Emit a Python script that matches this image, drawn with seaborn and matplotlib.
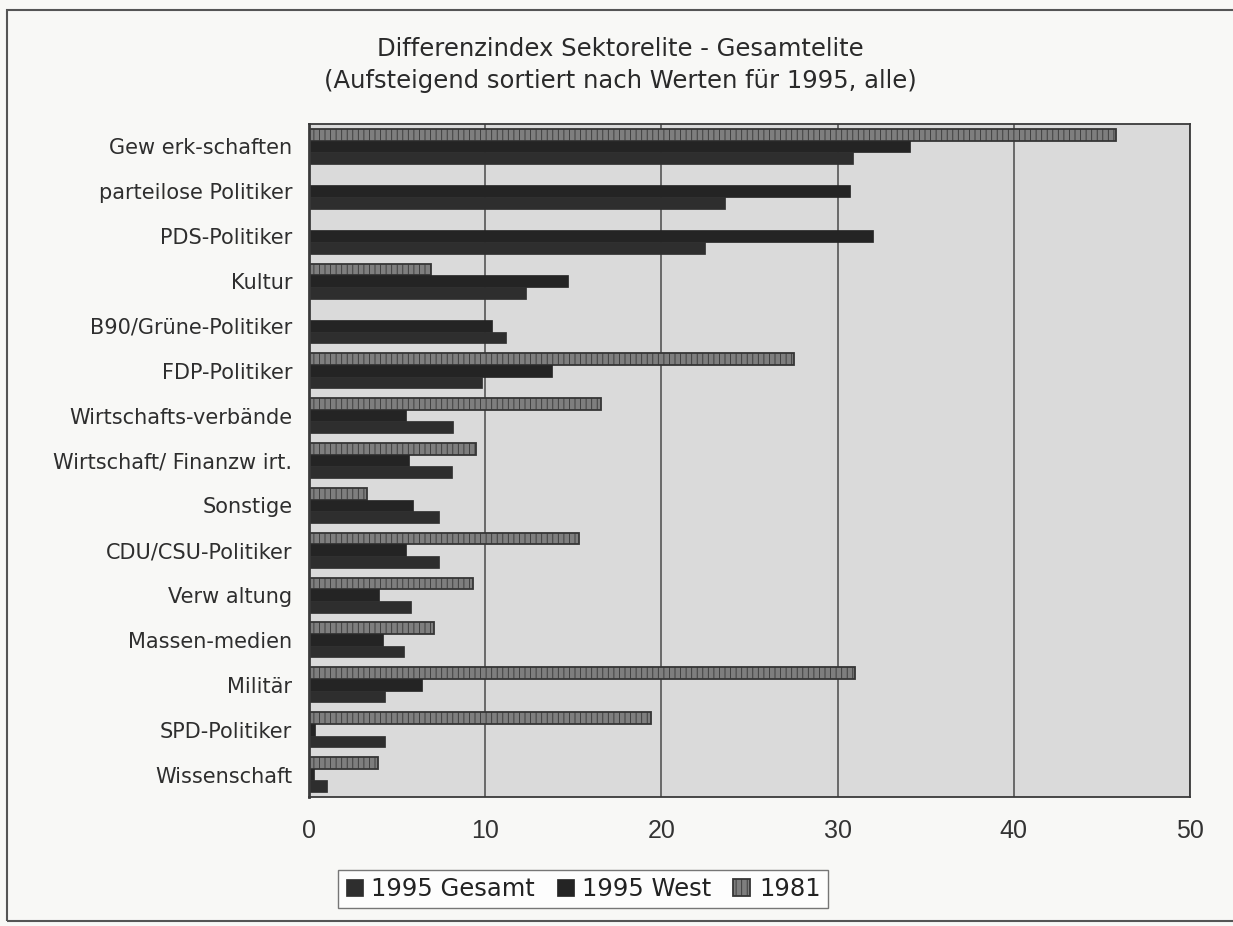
import numpy as np
import pandas as pd
import matplotlib
matplotlib.use("Agg")
import matplotlib.pyplot as plt
from matplotlib.patches import Rectangle
import seaborn as sns

# Sectors, top to bottom (ascending by 1995 total from the bottom up)
categories = [
    "Gew erk-schaften", "parteilose Politiker", "PDS-Politiker", "Kultur",
    "B90/Grüne-Politiker", "FDP-Politiker", "Wirtschafts-verbände",
    "Wirtschaft/ Finanzw irt.", "Sonstige", "CDU/CSU-Politiker",
    "Verw altung", "Massen-medien", "Militär", "SPD-Politiker", "Wissenschaft",
]
gesamt_1995 = [30.9, 23.6, 22.5, 12.3, 11.2, 9.8, 8.2, 8.1, 7.4, 7.4, 5.8, 5.4, 4.3, 4.3, 1.0]
west_1995 = [34.1, 30.7, 32.0, 14.7, 10.4, 13.8, 5.5, 5.7, 5.9, 5.5, 4.0, 4.2, 6.4, 0.35, 0.3]
wert_1981 = [45.8, np.nan, np.nan, 6.9, np.nan, 27.5, 16.6, 9.5, 3.3, 15.3, 9.3, 7.1, 31.0, 19.4, 3.9]

series_names = ["1981", "1995 West", "1995 Gesamt"]
legend_order = ["1995 Gesamt", "1995 West", "1981"]
x_ticks = [0, 10, 20, 30, 40, 50]

title = "Differenzindex Sektorelite - Gesamtelite\n(Aufsteigend sortiert nach Werten für 1995, alle)"

rows = []
for name, vals in zip(series_names, [wert_1981, west_1995, gesamt_1995]):
    for cat, v in zip(categories, vals):
        if not np.isnan(v):
            rows.append({"Sektor": cat, "Wert": v, "Reihe": name})
df = pd.DataFrame(rows)

sns.set_style("white")
plt.rcParams["font.family"] = ["DejaVu Sans"]
plt.rcParams["hatch.linewidth"] = 0.6

W, H = 1233, 926
fig = plt.figure(figsize=(W / 100, H / 100), dpi=100)
fig.patch.set_facecolor("#f8f8f6")
ax = fig.add_axes([309 / W, 1 - 797 / H, (1190 - 309) / W, (797 - 124) / H])

palette = {"1981": "#7e7e7e", "1995 West": "#242424", "1995 Gesamt": "#2e2e2e"}
sns.barplot(data=df, y="Sektor", x="Wert", hue="Reihe", order=categories,
            hue_order=series_names, palette=palette, orient="h",
            width=0.78, saturation=1, legend=False, ax=ax, errorbar=None)

# styling of the bar containers
handles = {}
for cont, name in zip(ax.containers, series_names):
    for bar in cont:
        if name == "1981":
            bar.set_hatch("|||")
            bar.set_edgecolor("#353535")
            bar.set_linewidth(1.3)
        else:
            bar.set_edgecolor(palette[name])
            bar.set_linewidth(0.5)
    handles[name] = cont[0] if len(cont) else None

ax.set_facecolor("#dadada")
ax.set_xlim(0, 50)
ax.set_ylim(len(categories) - 0.5, -0.5)
ax.set_xticks(x_ticks)
ax.set_xticklabels([str(t) for t in x_ticks], fontsize=18, color="#333333",
                   family="Liberation Sans")
ax.set_yticks(np.arange(len(categories)))
ax.set_yticklabels(categories, fontsize=15, color="#2e2e2e")
ax.tick_params(axis="y", length=0, pad=12)
ax.tick_params(axis="x", length=6, width=1, color="#444444", pad=10)
# small tick marks at category boundaries
ax.set_yticks(np.arange(len(categories) + 1) - 0.5, minor=True)
ax.tick_params(axis="y", which="minor", length=6, width=1, color="#444444")
ax.set_xlabel("")
ax.set_ylabel("")

ax.xaxis.grid(True, color="#4a4a4a", linewidth=1.1)
ax.set_axisbelow(True)
for side in ["left", "right", "top", "bottom"]:
    ax.spines[side].set_visible(True)
    ax.spines[side].set_color("#3a3a3a")
    ax.spines[side].set_linewidth(1.3)
ax.spines["left"].set_linewidth(2)

fig.text(620 / W, 1 - 65 / H, title, ha="center", va="center",
         fontsize=17.5, color="#2a2a2a", linespacing=1.45)

leg_handles = [handles[n] for n in legend_order]
leg = fig.legend(leg_handles, legend_order, loc="center", ncol=3,
                 bbox_to_anchor=(583 / W, 1 - 889 / H), fontsize=17.5,
                 frameon=True, fancybox=False, handlelength=0.7,
                 handleheight=0.7, handletextpad=0.35, columnspacing=0.9,
                 borderpad=0.3, labelcolor="#222222")
leg.get_frame().set_edgecolor("#555555")
leg.get_frame().set_linewidth(1.0)
leg.get_frame().set_facecolor("#ffffff")

# outer frame around the chart area
fig.patches.append(Rectangle((7 / W, 1 - 921 / H), 1.2, (921 - 10) / H,
                             transform=fig.transFigure, fill=False,
                             edgecolor="#555555", linewidth=1.5))

fig.savefig("out.png", dpi=100, facecolor=fig.get_facecolor())
